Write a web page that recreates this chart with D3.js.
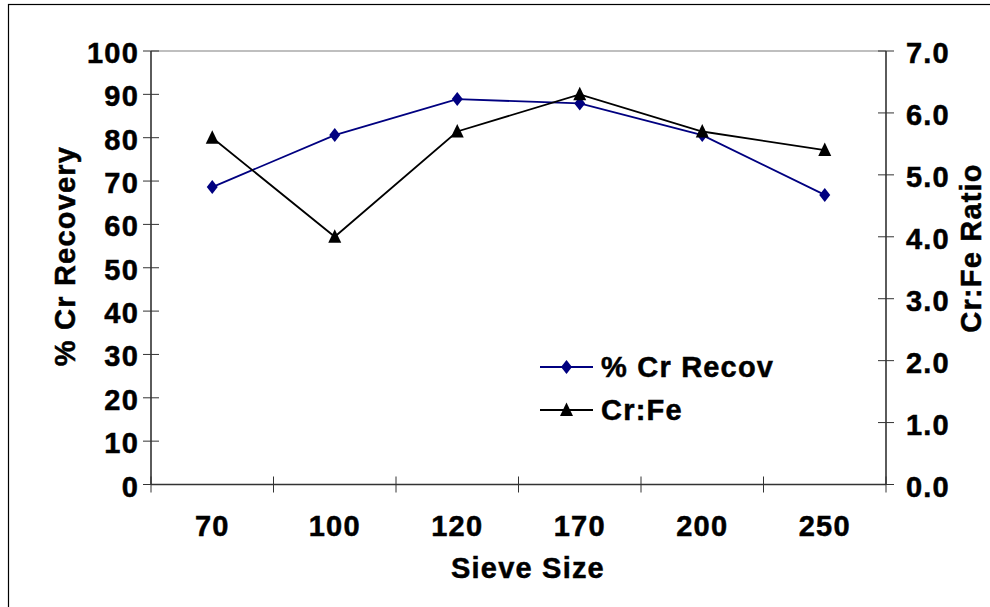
<!DOCTYPE html>
<html>
<head>
<meta charset="utf-8">
<script src="https://cdn.jsdelivr.net/npm/d3@7"></script>
<style>
  body { margin: 0; background: #fff; }
  text { font-family: "Liberation Sans", Arial, sans-serif; font-weight: bold; fill: #000;
         stroke: #000; stroke-width: 0.5px; }
</style>
</head>
<body>
<div class="canva"></div>
<script>
const sieve = ["70", "100", "120", "170", "200", "250"];
const recovery = [68.6, 80.6, 88.9, 87.9, 80.6, 66.8];
const crFe = [5.6, 4.0, 5.7, 6.3, 5.7, 5.4];
const leftTicks = [0, 10, 20, 30, 40, 50, 60, 70, 80, 90, 100];
const rightTicks = [0, 1, 2, 3, 4, 5, 6, 7];

const width = 990, height = 607;
const plot = {left: 151, right: 886, top: 51, bottom: 484.5};
const fs = 29, ls = "1.2px";

const svg = d3.select(".canva").append("svg")
    .attr("width", width)
    .attr("height", height);

// outer frame (right and bottom edges fall outside the picture)
svg.append("rect")
    .attr("x", 8.5).attr("y", 4.5)
    .attr("width", 1000).attr("height", 700)
    .attr("fill", "none").attr("stroke", "#000").attr("stroke-width", 1.2);

const x = d3.scaleBand().domain(sieve).range([plot.left, plot.right]);
const yL = d3.scaleLinear().domain([0, 100]).range([plot.bottom, plot.top]);
const yR = d3.scaleLinear().domain([0, 7]).range([plot.bottom, plot.top]);

// top border of plot area
svg.append("line")
    .attr("x1", plot.left).attr("x2", plot.right)
    .attr("y1", plot.top).attr("y2", plot.top)
    .attr("stroke", "#808080").attr("stroke-width", 1.2);

const axisColor = "#333";

// left axis
const gl = svg.append("g");
gl.append("line")
    .attr("x1", plot.left).attr("x2", plot.left)
    .attr("y1", plot.top).attr("y2", plot.bottom)
    .attr("stroke", axisColor).attr("stroke-width", 1.6);
gl.selectAll(".tk").data(leftTicks).enter().append("line")
    .attr("x1", plot.left - 8).attr("x2", plot.left + 8)
    .attr("y1", d => yL(d)).attr("y2", d => yL(d))
    .attr("stroke", axisColor).attr("stroke-width", 1);
gl.selectAll("text").data(leftTicks).enter().append("text")
    .attr("x", plot.left - 12)
    .attr("y", d => yL(d) + 12)
    .attr("text-anchor", "end")
    .style("font-size", fs + "px").style("letter-spacing", ls)
    .text(d => d);

// right axis
const gr = svg.append("g");
gr.append("line")
    .attr("x1", plot.right).attr("x2", plot.right)
    .attr("y1", plot.top).attr("y2", plot.bottom)
    .attr("stroke", axisColor).attr("stroke-width", 1.6);
gr.selectAll(".tk").data(rightTicks).enter().append("line")
    .attr("x1", plot.right - 8).attr("x2", plot.right + 8)
    .attr("y1", d => yR(d)).attr("y2", d => yR(d))
    .attr("stroke", axisColor).attr("stroke-width", 1);
gr.selectAll("text").data(rightTicks).enter().append("text")
    .attr("x", plot.right + 20)
    .attr("y", d => yR(d) + 12)
    .attr("text-anchor", "start")
    .style("font-size", fs + "px").style("letter-spacing", ls)
    .text(d => d3.format(".1f")(d));

// bottom axis
const gb = svg.append("g");
gb.append("line")
    .attr("x1", plot.left).attr("x2", plot.right)
    .attr("y1", plot.bottom).attr("y2", plot.bottom)
    .attr("stroke", axisColor).attr("stroke-width", 1.6);
const bounds = sieve.map(d => x(d)).concat([x(sieve[sieve.length - 1]) + x.bandwidth()]);
gb.selectAll(".tk").data(bounds).enter().append("line")
    .attr("x1", d => d).attr("x2", d => d)
    .attr("y1", plot.bottom - 8).attr("y2", plot.bottom + 8)
    .attr("stroke", axisColor).attr("stroke-width", 1);
gb.selectAll("text").data(sieve).enter().append("text")
    .attr("x", d => x(d) + x.bandwidth() / 2)
    .attr("y", plot.bottom + 51)
    .attr("text-anchor", "middle")
    .style("font-size", fs + "px").style("letter-spacing", ls)
    .text(d => d);

// axis titles
svg.append("text")
    .attr("transform", `translate(75, 256) rotate(-90)`)
    .attr("text-anchor", "middle")
    .style("font-size", fs + "px").style("letter-spacing", ls)
    .text("% Cr Recovery");
svg.append("text")
    .attr("transform", `translate(981, 248) rotate(-90)`)
    .attr("text-anchor", "middle")
    .style("font-size", fs + "px").style("letter-spacing", ls)
    .text("Cr:Fe Ratio");
svg.append("text")
    .attr("x", 528).attr("y", 578)
    .attr("text-anchor", "middle")
    .style("font-size", fs + "px").style("letter-spacing", ls)
    .text("Sieve Size");

// markers
const diamond = {draw(ctx, size) { const w = 5.5, h = 7;
    ctx.moveTo(0, -h); ctx.lineTo(w, 0); ctx.lineTo(0, h); ctx.lineTo(-w, 0); ctx.closePath(); }};
const triangle = {draw(ctx, size) {
    ctx.moveTo(0, -7.5); ctx.lineTo(6.5, 6); ctx.lineTo(-6.5, 6); ctx.closePath(); }};

const cx = d => x(d) + x.bandwidth() / 2;
const blue = "#000080";

// recovery series
const recData = sieve.map((s, i) => ({s: s, v: recovery[i]}));
svg.append("path").datum(recData)
    .attr("fill", "none").attr("stroke", blue).attr("stroke-width", 1.8)
    .attr("d", d3.line().x(d => cx(d.s)).y(d => yL(d.v)));
svg.selectAll(".dm").data(recData).enter().append("path")
    .attr("transform", d => `translate(${cx(d.s)},${yL(d.v)})`)
    .attr("d", d3.symbol().type(diamond))
    .attr("fill", blue);

// Cr:Fe series
const feData = sieve.map((s, i) => ({s: s, v: crFe[i]}));
svg.append("path").datum(feData)
    .attr("fill", "none").attr("stroke", "#000").attr("stroke-width", 1.8)
    .attr("d", d3.line().x(d => cx(d.s)).y(d => yR(d.v)));
svg.selectAll(".tr").data(feData).enter().append("path")
    .attr("transform", d => `translate(${cx(d.s)},${yR(d.v)})`)
    .attr("d", d3.symbol().type(triangle))
    .attr("fill", "#000");

// legend
const legend = svg.append("g").attr("transform", "translate(540, 367)");
const items = [
  {name: "% Cr Recov", color: blue, sym: diamond},
  {name: "Cr:Fe", color: "#000", sym: triangle}
];
items.forEach((it, i) => {
  const g = legend.append("g").attr("transform", `translate(0, ${i * 43})`);
  g.append("line").attr("x1", 0).attr("x2", 53).attr("y1", 0).attr("y2", 0)
      .attr("stroke", it.color).attr("stroke-width", 1.8);
  g.append("path").attr("transform", "translate(26.5,0)")
      .attr("d", d3.symbol().type(it.sym)).attr("fill", it.color);
  g.append("text").attr("x", 61).attr("y", 10)
      .style("font-size", fs + "px").style("letter-spacing", ls)
      .text(it.name);
});
</script>
</body>
</html>
